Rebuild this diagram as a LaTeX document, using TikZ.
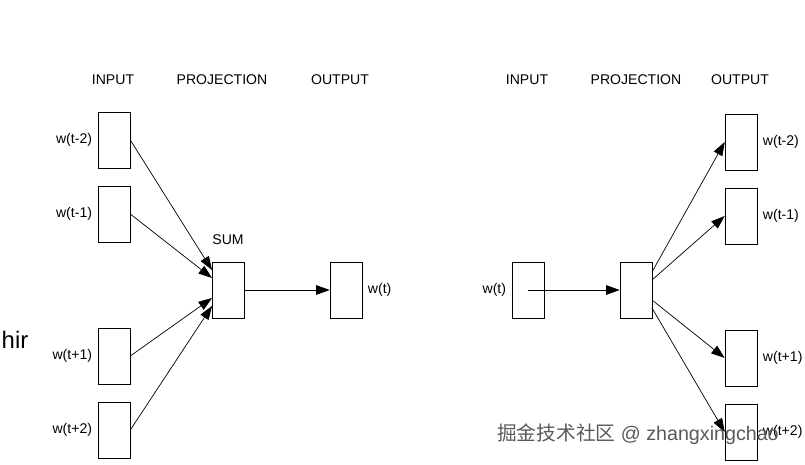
\documentclass[tikz,border=0pt]{standalone}
\usepackage{fontspec}
\setmainfont{Liberation Sans}
\newfontfamily\cjk{Noto Sans CJK SC}
\usetikzlibrary{arrows.meta}

\begin{document}
\begin{tikzpicture}[x=0.025cm,y=-0.025cm,
  w/.style={rectangle,draw,minimum width=0.8cm,minimum height=1.4cm,inner sep=0pt},
  t/.style={font=\fontsize{10}{12}\selectfont,inner sep=1pt},
  a/.style={-{Triangle[length=3.4mm,width=2.4mm]},line width=0.5pt}]
  \useasboundingbox (0,0) rectangle (805,465);
  % left model
  \node[t] (li) at (113,80) {INPUT};
  \node[t] (lp) at (222,80) {PROJECTION};
  \node[t] (lo) at (340,80) {OUTPUT};
  \node[w] (a1) at (114,140) {};
  \node[w] (a2) at (114,214) {};
  \node[w] (a3) at (114,356) {};
  \node[w] (a4) at (114,430) {};
  \node[t,left=1mm] at (a1.west) {w(t-2)};
  \node[t,left=1mm] at (a2.west) {w(t-1)};
  \node[t,left=1mm] at (a3.west) {w(t+1)};
  \node[t,left=1mm] at (a4.west) {w(t+2)};
  \node[w] (s) at (228,290) {};
  \node[t] (sl) at (228,240) {SUM};
  \node[w] (o) at (346,290) {};
  \node[t,right=1mm] at (o.east) {w(t)};
  \coordinate (s1) at (212,270);
  \coordinate (s2) at (212,278);
  \coordinate (s3) at (212,298);
  \coordinate (s4) at (212,306);
  \draw[a] (a1.east) -- (s1);
  \draw[a] (a2.east) -- (s2);
  \draw[a] (a3.east) -- (s3);
  \draw[a] (a4.east) -- (s4);
  \draw[a] (s) -- (o);
  % right model
  \node[t] (ri) at (527,80) {INPUT};
  \node[t] (rp) at (636,80) {PROJECTION};
  \node[t] (ro) at (740,80) {OUTPUT};
  \node[w] (x) at (528,290) {};
  \node[t,left=1mm] at (x.west) {w(t)};
  \node[w] (p) at (636,290) {};
  \node[w] (b1) at (741,142) {};
  \node[w] (b2) at (741,216) {};
  \node[w] (b3) at (741,358) {};
  \node[w] (b4) at (741,432) {};
  \node[t,right=1mm] at (b1.east) {w(t-2)};
  \node[t,right=1mm] at (b2.east) {w(t-1)};
  \node[t,right=1mm] at (b3.east) {w(t+1)};
  \node[t,right=1mm] at (b4.east) {w(t+2)};
  \coordinate (p1) at (652,272);
  \coordinate (p2) at (652,280);
  \coordinate (p3) at (652,300);
  \coordinate (p4) at (652,308);
  \draw[a] (x.center) -- (p);
  \draw[a] (p1) -- (b1.west);
  \draw[a] (p2) -- (b2.west);
  \draw[a] (p3) -- (b3.west);
  \draw[a] (p4) -- (b4.west);
  % stray text
  \node[font=\fontsize{17}{20}\selectfont] (h) at (15,340) {hir};
  \node[font=\fontsize{14}{16}\selectfont,text=white!35!black] (wm) at (638,434)
    {{\cjk 掘金技术社区} @ zhangxingchao};
\end{tikzpicture}
\end{document}
